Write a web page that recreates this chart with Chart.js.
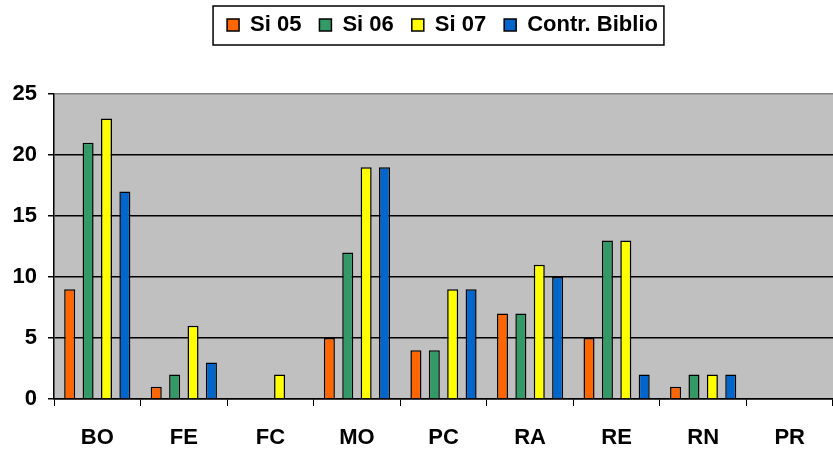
<html>
<head>
    <title>Si 05 - Si 06 - Si 07 - Contr. Biblio</title>
    <script src="https://cdn.jsdelivr.net/npm/chart.js"></script>
    <style>
        body { margin: 0; background: #fff; }
    </style>
</head>
<body>
    <canvas id="grafico" width="833" height="451"></canvas>

    <script>
        // datos
        const categorias = ['BO', 'FE', 'FC', 'MO', 'PC', 'RA', 'RE', 'RN', 'PR'];
        const si05 = [9, 1, 0, 5, 4, 7, 5, 1, 0];
        const si06 = [21, 2, 0, 12, 4, 7, 13, 2, 0];
        const si07 = [23, 6, 2, 19, 9, 11, 13, 2, 0];
        const contrBiblio = [17, 3, 0, 19, 9, 10, 2, 2, 0];
        const ticksY = [0, 5, 10, 15, 20, 25];

        const fuente = { family: 'Liberation Sans, Arial, sans-serif', size: 22, weight: 'bold' };

        // fondo gris del area de trazado
        const fondoGris = {
            id: 'fondoGris',
            beforeDraw(chart) {
                const a = chart.chartArea;
                const c = chart.ctx;
                c.save();
                c.fillStyle = '#C0C0C0';
                c.fillRect(a.left, a.top, a.right - a.left, a.bottom - a.top);
                c.restore();
            }
        };

        // mas espacio debajo de la leyenda, un poco a la derecha, y marco alrededor
        const marcoLeyenda = {
            id: 'marcoLeyenda',
            beforeInit(chart) {
                const fitOriginal = chart.legend.fit;
                chart.legend.fit = function () {
                    fitOriginal.bind(chart.legend)();
                    this.height += 48;
                };
            },
            afterLayout(chart) {
                chart.legend.left += 26;
                chart.legend.right += 26;
            },
            afterDraw(chart) {
                const cajas = chart.legend.legendHitBoxes;
                if (!cajas || !cajas.length) return;
                const primera = cajas[0];
                const ultima = cajas[cajas.length - 1];
                const c = chart.ctx;
                c.save();
                c.strokeStyle = '#000';
                c.lineWidth = 1.5;
                const x1 = primera.left - 14;
                const x2 = ultima.left + ultima.width + 6;
                const yc = primera.top + primera.height / 2;
                c.strokeRect(x1, yc - 19, x2 - x1, 39);
                c.restore();
            }
        };

        const ctx = document.getElementById('grafico').getContext('2d');
        const grafico = new Chart(ctx, {
            type: 'bar',
            data: {
                labels: categorias,
                datasets: [
                    { label: 'Si 05', data: si05, backgroundColor: '#FF6600' },
                    { label: 'Si 06', data: si06, backgroundColor: '#339966' },
                    { label: 'Si 07', data: si07, backgroundColor: '#FFFF00' },
                    { label: 'Contr. Biblio', data: contrBiblio, backgroundColor: '#0066CC' }
                ]
            },
            options: {
                responsive: false,
                animation: false,
                devicePixelRatio: 1,
                layout: { padding: { top: -4, left: 0, right: 0, bottom: 0 } },
                datasets: {
                    bar: {
                        borderColor: '#000',
                        borderWidth: 1.5,
                        barPercentage: 0.6,
                        categoryPercentage: 0.85
                    }
                },
                plugins: {
                    legend: {
                        position: 'top',
                        labels: {
                            color: '#000',
                            font: fuente,
                            boxWidth: 12,
                            boxHeight: 12,
                            padding: 18
                        }
                    },
                    tooltip: { enabled: false }
                },
                scales: {
                    x: {
                        grid: {
                            offset: true,
                            drawOnChartArea: false,
                            color: '#000',
                            tickLength: 7
                        },
                        border: { color: '#000', width: 1.5 },
                        ticks: {
                            color: '#000',
                            font: fuente,
                            maxRotation: 0,
                            autoSkip: false,
                            padding: 19
                        },
                        afterFit(scale) { scale.height = 52; }
                    },
                    y: {
                        min: 0,
                        max: 25,
                        grid: {
                            color: (c) => (c.tick && c.tick.value === 25 ? '#808080' : '#000'),
                            tickColor: '#000',
                            lineWidth: 1.5,
                            tickLength: 6
                        },
                        border: { color: '#000', width: 1.5 },
                        afterBuildTicks(scale) {
                            scale.ticks = ticksY.map(v => ({ value: v }));
                        },
                        ticks: {
                            color: '#000',
                            font: fuente,
                            padding: 11
                        },
                        afterFit(scale) { scale.width = 54; }
                    }
                }
            },
            plugins: [fondoGris, marcoLeyenda]
        });
    </script>
</body>
</html>
